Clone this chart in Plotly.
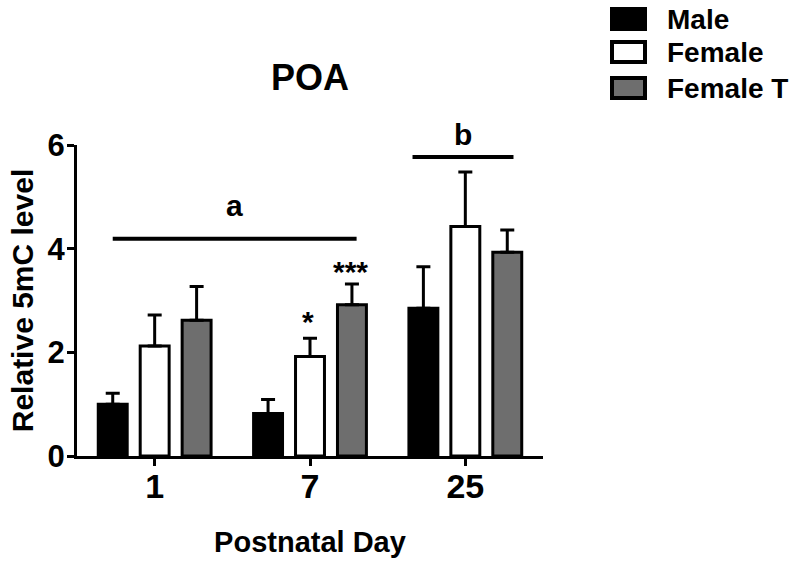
import plotly.graph_objects as go

days = ["1", "7", "25"]
groups = ["Male", "Female", "Female T"]
male = [1.0, 0.82, 2.85]
male_err = [0.21, 0.27, 0.8]
female = [2.12, 1.92, 4.43]
female_err = [0.6, 0.35, 1.05]
female_t = [2.62, 2.92, 3.93]
female_t_err = [0.65, 0.4, 0.43]
colors = ["#000000", "#ffffff", "#6e6e6e"]

values = [male, female, female_t]
errors = [male_err, female_err, female_t_err]

FONT = "Arial, Liberation Sans, sans-serif"

fig = go.Figure()
for name, vals, errs, col in zip(groups, values, errors, colors):
    fig.add_trace(go.Bar(
        name=name, x=days, y=vals,
        marker=dict(color=col, line=dict(color="black", width=3)),
        error_y=dict(type="data", array=errs, arrayminus=[0] * len(errs),
                     symmetric=False, color="black", thickness=3, width=7),
        showlegend=False,
    ))

W, H = 800, 565
L, R, T, B = 77, 800 - 543, 145, 565 - 456


def px_to_paper(px, py):
    return (px - L) / (W - L - R), (H - B - py) / (H - T - B)


# custom legend (large boxes like the reference)
legend_rows = [19, 52, 88]
for name, col, cy in zip(groups, colors, legend_rows):
    x0, y0 = px_to_paper(612, cy - 10)
    x1, y1 = px_to_paper(645, cy + 10)
    fig.add_shape(type="rect", xref="paper", yref="paper", x0=x0, x1=x1, y0=y0, y1=y1,
                  fillcolor=col, line=dict(color="black", width=4))
    tx, ty = px_to_paper(665, cy)
    fig.add_annotation(xref="paper", yref="paper", x=tx, y=ty, text=name, showarrow=False,
                       xanchor="left", yanchor="middle",
                       font=dict(family=FONT, size=28, color="black", weight="bold"))

# significance bars
sig_lines = [(-0.27, 1.30, 4.19, "a", 15), (1.66, 2.31, 5.77, "b", 4)]
for x0, x1, yv, lab, ysh in sig_lines:
    fig.add_shape(type="line", xref="x", yref="y", x0=x0, x1=x1, y0=yv, y1=yv,
                  line=dict(color="black", width=4))
    fig.add_annotation(xref="x", yref="y", x=(x0 + x1) / 2, y=yv, text=lab, showarrow=False,
                       xanchor="center", yanchor="bottom", yshift=ysh,
                       font=dict(family=FONT, size=30, color="black", weight="bold"))

# stars above day 7 bars
fig.add_annotation(xref="x", yref="y", x=0.99, y=female[1] + female_err[1], text="*",
                   showarrow=False, xanchor="center", yanchor="bottom", yshift=-2,
                   font=dict(family=FONT, size=30, color="black", weight="bold"))
fig.add_annotation(xref="x", yref="y", x=1.26, y=female_t[1] + female_t_err[1], text="***",
                   showarrow=False, xanchor="center", yanchor="bottom", yshift=-6,
                   font=dict(family=FONT, size=30, color="black", weight="bold"))

fig.update_layout(
    width=W, height=H,
    margin=dict(l=L, r=R, t=T, b=B, autoexpand=False),
    paper_bgcolor="white", plot_bgcolor="white",
    barmode="group", bargap=0.19, bargroupgap=0.31,
    title=dict(text="POA", x=(L + (W - R)) / 2 / W, xanchor="center",
               y=1 - 77 / H, yanchor="middle",
               font=dict(family=FONT, size=36, color="black", weight="bold")),
    xaxis=dict(
        type="category", range=[-0.5, 2.5],
        showline=True, linecolor="black", linewidth=3,
        ticks="outside", ticklen=7, tickwidth=3, tickcolor="black",
        ticklabelstandoff=-9,
        tickfont=dict(family=FONT, size=34, color="black", weight="bold"),
        title=dict(text="Postnatal Day", standoff=28,
                   font=dict(family=FONT, size=29, color="black", weight="bold")),
        showgrid=False, zeroline=False, automargin=False,
    ),
    yaxis=dict(
        range=[0, 6], tickvals=[0, 2, 4, 6],
        showline=True, linecolor="black", linewidth=3,
        ticks="outside", ticklen=7, tickwidth=3, tickcolor="black",
        ticklabelstandoff=-4,
        tickfont=dict(family=FONT, size=31, color="black", weight="bold"),
        title=dict(text="Relative 5mC level", standoff=6,
                   font=dict(family=FONT, size=30, color="black", weight="bold")),
        showgrid=False, zeroline=False, automargin=False,
    ),
)

fig.write_html("out.html", config={"displayModeBar": False},
               post_script="document.body.style.margin='0';document.body.style.padding='0';")
